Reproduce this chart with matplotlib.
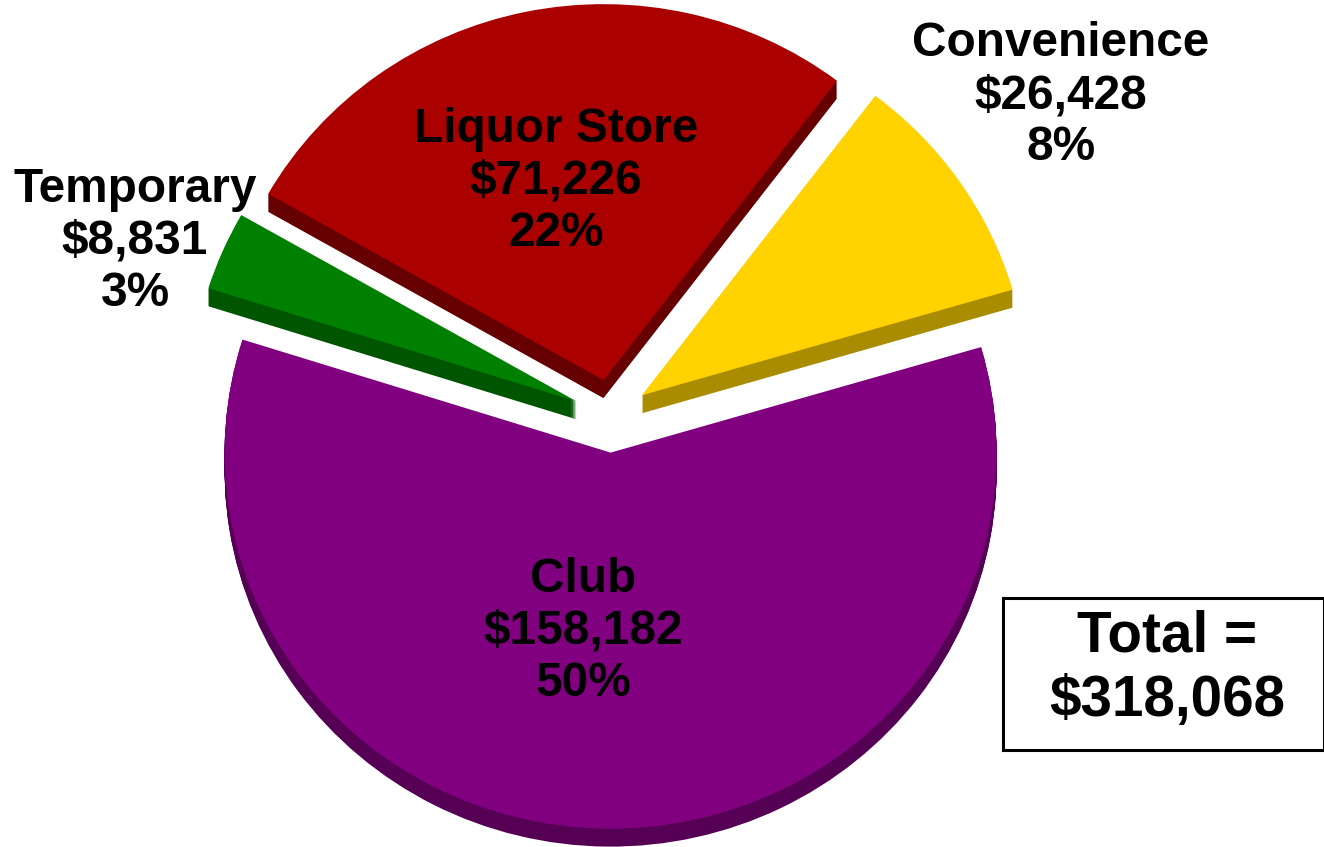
import matplotlib
matplotlib.use("Agg")
import matplotlib.pyplot as plt

plt.rcParams['font.family'] = ['Liberation Sans', 'DejaVu Sans']

categories = ["Club", "Convenience", "Liquor Store", "Temporary"]
amounts = ["$158,182", "$26,428", "$71,226", "$8,831"]
percents = ["50%", "8%", "22%", "3%"]
# slice sizes as drawn in the picture (degrees), they are wider than the labels say
slice_degrees = [213.8, 36.5, 97.5, 12.2]
top_colors = ["#800080", "#FFD200", "#AA0000", "#008000"]
side_colors = ["#550055", "#AA8C00", "#660000", "#005500"]
total_text = "Total =\n$318,068"

label_xy = [(583, 631), (1061, 96), (556, 181), (135, 241)]

W, H = 1324, 847
fig = plt.figure(figsize=(W / 100, H / 100), dpi=100)
ax = fig.add_axes([0, 0, 1, 1])

cx, cy = 611, 416   # pie centre in pixels
radius = 380
depth = 18
explode = [37] * len(slice_degrees)
start = 162.5
sx, sy = 386 / radius, 376 / radius   # pie is a bit wider than tall

# side walls first, stacked downward, then the top face
for d in range(depth, 0, -1):
    ax.pie(slice_degrees, explode=explode, colors=side_colors, startangle=start,
           radius=radius, center=(0, -d / sy), normalize=True)
ax.pie(slice_degrees, explode=explode, colors=top_colors, startangle=start,
       radius=radius, center=(0, 0), normalize=True)

ax.set_aspect("auto")
ax.set_xlim(-cx / sx, (W - cx) / sx)
ax.set_ylim(-(H - cy) / sy, cy / sy)
ax.axis("off")

# text and box in pixel coordinates
over = fig.add_axes([0, 0, 1, 1])
over.set_xlim(0, W)
over.set_ylim(H, 0)
over.axis("off")

for name, amount, pct, (x, y) in zip(categories, amounts, percents, label_xy):
    over.text(x, y, f"{name}\n{amount}\n{pct}", ha="center", va="center",
              fontsize=34.4, fontweight="bold", color="black", linespacing=1.2)

over.add_patch(plt.Rectangle((1003, 598), 321, 152, facecolor="white", edgecolor="black",
                             linewidth=2.2, clip_on=False))
over.text(1167, 669, total_text, ha="center", va="center", fontsize=40.8,
          fontweight="bold", color="black", linespacing=1.24)

fig.savefig("out.png", dpi=100)
